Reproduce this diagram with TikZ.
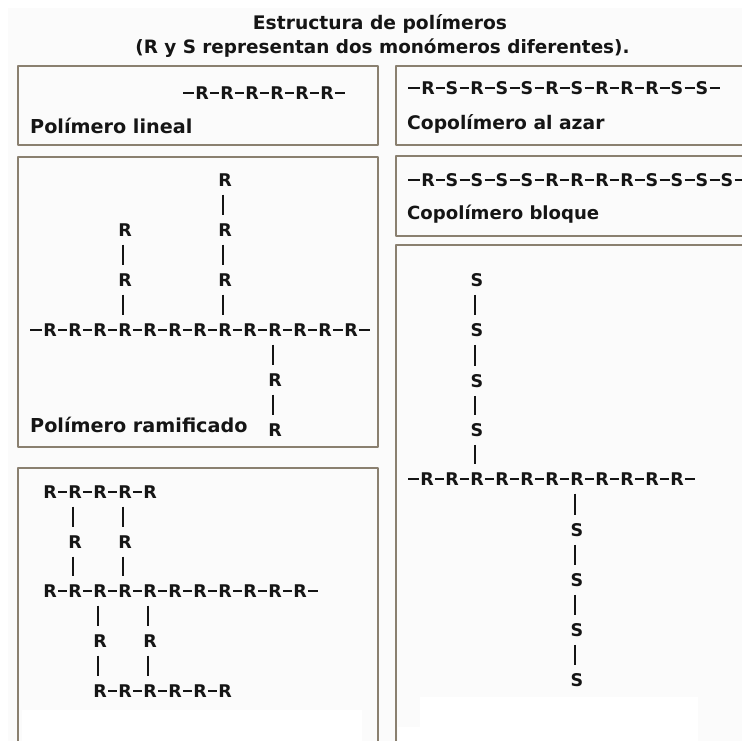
\documentclass[tikz,border=0pt]{standalone}
\usepackage{fontspec}
\setmainfont{DejaVu Sans}
\definecolor{boxc}{HTML}{8A8070}
\definecolor{inkc}{HTML}{151515}
\definecolor{bgc}{HTML}{FBFBFB}
\tikzset{
  panel/.style={draw=boxc,line width=2.6pt,line join=round},
  atom/.style={inner sep=0pt,font=\fontsize{17.5}{20}\selectfont\bfseries,text=inkc,anchor=center},
  bond/.style={draw=inkc,line width=2.3pt},
  txt/.style={inner sep=0pt,font=\fontsize{#1}{20}\selectfont\bfseries,text=inkc,anchor=west},
  ttl/.style={inner sep=0pt,font=\fontsize{#1}{20}\selectfont\bfseries,text=inkc,anchor=center}
}
% #1 prefix, #2 y, #3 list of x/letter
\newcommand{\hchain}[3]{%
  \foreach \px/\l [count=\i] in {#3} {\node[atom] (#1\i) at (\px,#2) {\l};}
  \foreach \px/\l [count=\i, remember=\i as \j (initially 0)] in {#3} {%
    \ifnum\j>0 \draw[bond] ([xshift=1pt]#1\j.east) -- ([xshift=-1pt]#1\i.west);\fi}%
}
\newcommand{\vb}[2]{\draw[bond,shorten <=8pt,shorten >=8pt] ([xshift=-1.7pt]#1.south) -- ([xshift=-1.7pt]#2.north);}
\begin{document}
\begin{tikzpicture}[x=1pt,y=-1pt]
\useasboundingbox (0,0) rectangle (742,741);
\fill[white] (0,0) rectangle (742,741);
\fill[bgc] (8,8) rectangle (742,741);
\fill[white] (22,710) rectangle (362,741);
\fill[white] (420,697) rectangle (698,741);
\fill[white] (398,727) rectangle (420,741);
\node[ttl=18.7] (t1) at (380,24) {Estructura de polímeros};
\node[ttl=18.4] (t2) at (382.5,48) {(R y S representan dos monómeros diferentes).};
\draw[panel] (18,66) rectangle (378,145);
\draw[panel] (18,157) rectangle (378,447);
\draw[panel] (18,741) -- (18,468) -- (378,468) -- (378,741);
\draw[panel] (742,66) -- (396,66) -- (396,145) -- (742,145);
\draw[panel] (742,156) -- (396,156) -- (396,236) -- (742,236);
\draw[panel] (742,245) -- (396,245) -- (396,741);
% lineal
\hchain{a}{93}{202/R,227/R,252/R,277/R,302/R,327/R}
\coordinate (aL) at (183,93); \coordinate (aR) at (345,93);
\draw[bond] (aL) -- ([xshift=-1pt]a1.west); \draw[bond] ([xshift=1pt]a6.east) -- (aR);
\node[txt=19.2] (l1) at (30,126) {Polímero lineal};
% ramificado
\hchain{b}{330}{50/R,75/R,100/R,125/R,150/R,175/R,200/R,225/R,250/R,275/R,300/R,325/R,351/R}
\coordinate (bL) at (30,330); \coordinate (bR) at (370,330);
\draw[bond] (bL) -- ([xshift=-1pt]b1.west); \draw[bond] ([xshift=1pt]b13.east) -- (bR);
\node[atom] (c1) at (125,230) {R};
\node[atom] (c2) at (125,280) {R};
\vb{c1}{c2} \vb{c2}{b4}
\node[atom] (d1) at (225,180) {R};
\node[atom] (d2) at (225,230) {R};
\node[atom] (d3) at (225,280) {R};
\vb{d1}{d2} \vb{d2}{d3} \vb{d3}{b8}
\node[atom] (e1) at (275,380) {R};
\node[atom] (e2) at (275,430) {R};
\vb{b10}{e1} \vb{e1}{e2}
\node[txt=19.2] (l2) at (30,425) {Polímero ramificado};
% entrecruzado
\hchain{f}{492}{50/R,75/R,100/R,125/R,150/R}
\hchain{g}{591}{50/R,75/R,100/R,125/R,150/R,175/R,200/R,225/R,250/R,275/R,300/R}
\coordinate (gR) at (318,591);
\draw[bond] ([xshift=1pt]g11.east) -- (gR);
\hchain{h}{691}{100/R,125/R,150/R,175/R,200/R,225/R}
\node[atom] (i1) at (75,542) {R};
\node[atom] (i2) at (125,542) {R};
\node[atom] (i3) at (100,641) {R};
\node[atom] (i4) at (150,641) {R};
\vb{f2}{i1} \vb{i1}{g2} \vb{f4}{i2} \vb{i2}{g4}
\vb{g3}{i3} \vb{i3}{h1} \vb{g5}{i4} \vb{i4}{h3}
% al azar
\hchain{j}{88}{428/R,452/S,477/R,502/S,527/S,552/R,577/S,602/R,627/R,652/R,677/S,702/S}
\coordinate (jL) at (408,88); \coordinate (jR) at (720,88);
\draw[bond] (jL) -- ([xshift=-1pt]j1.west); \draw[bond] ([xshift=1pt]j12.east) -- (jR);
\node[txt=18.7] (l3) at (407,124) {Copolímero al azar};
% bloque
\hchain{k}{180}{428/R,452/S,477/S,502/S,527/S,552/R,577/R,602/R,627/R,652/S,677/S,702/S,727/S}
\coordinate (kL) at (408,180); \coordinate (kR) at (742,180);
\draw[bond] (kL) -- ([xshift=-1pt]k1.west); \draw[bond] ([xshift=1pt]k13.east) -- (kR);
\node[txt=18.1] (l4) at (407,214) {Copolímero bloque};
% injerto
\hchain{m}{479}{427/R,452/R,477/R,502/R,527/R,552/R,577/R,602/R,627/R,652/R,677/R}
\coordinate (mL) at (408,479); \coordinate (mR) at (695,479);
\draw[bond] (mL) -- ([xshift=-1pt]m1.west); \draw[bond] ([xshift=1pt]m11.east) -- (mR);
\node[atom] (n1) at (477,280) {S};
\node[atom] (n2) at (477,330) {S};
\node[atom] (n3) at (477,381) {S};
\node[atom] (n4) at (477,430) {S};
\vb{n1}{n2} \vb{n2}{n3} \vb{n3}{n4} \vb{n4}{m3}
\node[atom] (o1) at (577,530) {S};
\node[atom] (o2) at (577,580) {S};
\node[atom] (o3) at (577,630) {S};
\node[atom] (o4) at (577,680) {S};
\vb{m7}{o1} \vb{o1}{o2} \vb{o2}{o3} \vb{o3}{o4}
\end{tikzpicture}
\end{document}
